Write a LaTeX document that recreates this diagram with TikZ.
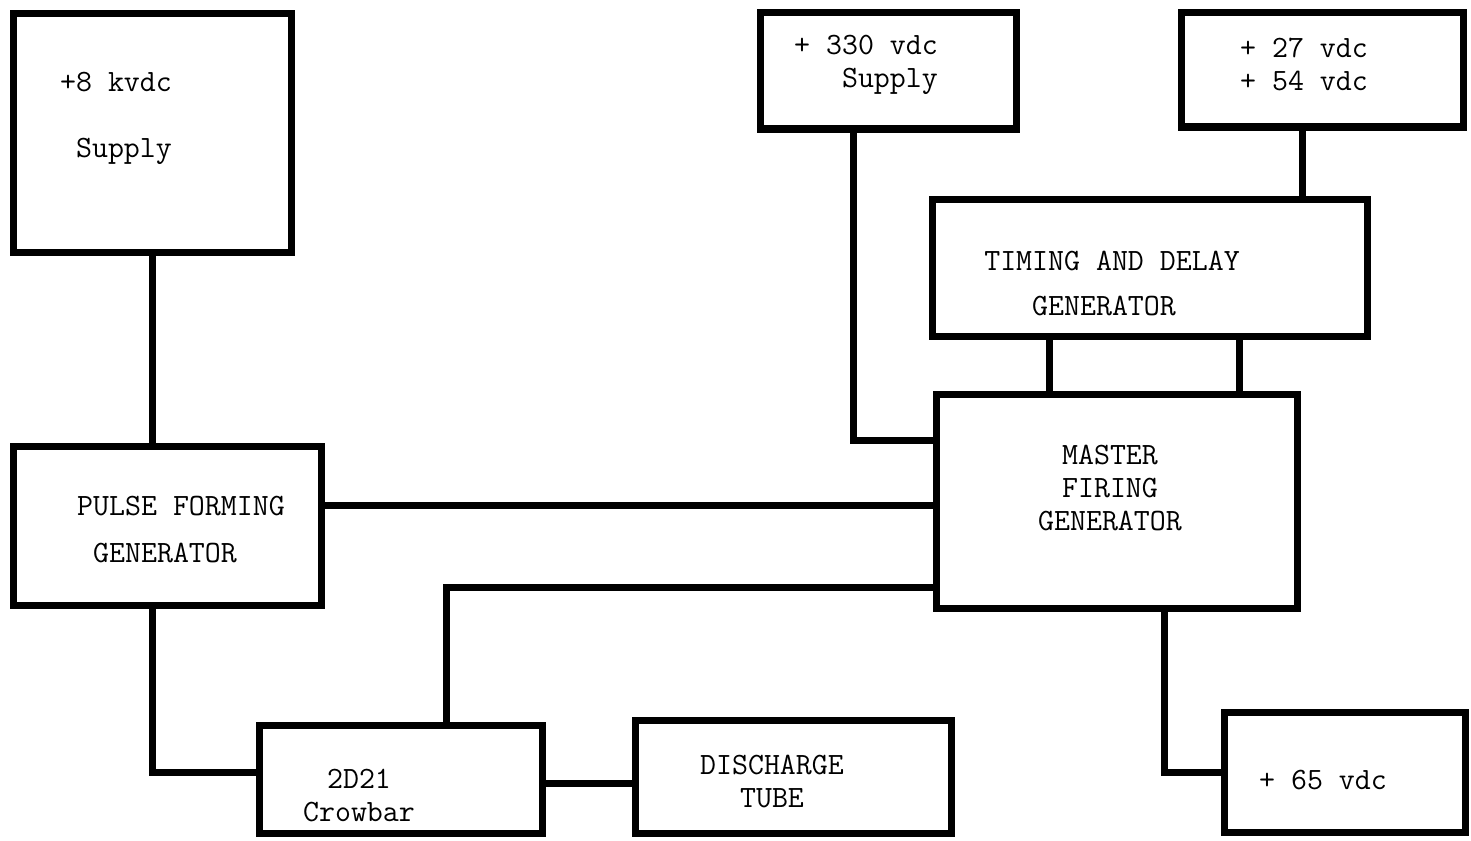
\documentclass[tikz,border=0pt]{standalone}
\usepackage{tikz}
\tikzset{
  blk/.style={draw, line width=7pt, inner sep=0pt},
  lbl/.style={font=\ttfamily\fontsize{31}{33}\selectfont, inner sep=0pt},
  wire/.style={line width=7pt}
}

\begin{document}
\begin{tikzpicture}[x=1pt, y=-1pt]
    \useasboundingbox (0,0) rectangle (1471,840);

    \node[blk, minimum width=278pt, minimum height=238pt] (sup8) at (152,133) {};
    \node[blk, minimum width=256pt, minimum height=116pt] (sup330) at (888,71) {};
    \node[blk, minimum width=282pt, minimum height=114pt] (sup27) at (1322,70) {};
    \node[blk, minimum width=435pt, minimum height=137pt] (tdg) at (1149.5,267.5) {};
    \node[blk, minimum width=361pt, minimum height=214pt] (mfg) at (1116.5,501) {};
    \node[blk, minimum width=308pt, minimum height=159pt] (pfg) at (167,525.5) {};
    \node[blk, minimum width=283pt, minimum height=108pt] (crow) at (400.5,779) {};
    \node[blk, minimum width=316pt, minimum height=113pt] (dis) at (793,776.5) {};
    \node[blk, minimum width=241pt, minimum height=120pt] (sup65) at (1344.5,772) {};

    \node[lbl, align=right] (sup8-t) at (116,118) {+8 kvdc\\[33pt]Supply};
    \node[lbl, align=right] (sup330-t) at (866,65) {+ 330 vdc\\Supply};
    \node[lbl, align=left] (sup27-t) at (1304,64) {+ 27 vdc\\+ 54 vdc};
    \node[lbl, align=left] (tdg-t) at (1112,283) {TIMING AND DELAY\\[12pt]~~~GENERATOR};
    \node[lbl, align=center] (mfg-t) at (1110,488) {MASTER\\FIRING\\GENERATOR};
    \node[lbl, align=left] (pfg-t) at (181,530) {PULSE FORMING\\[14pt]~GENERATOR};
    \node[lbl, align=center] (crow-t) at (359,796) {2D21\\Crowbar};
    \node[lbl, align=center] (dis-t) at (772,781) {DISCHARGE\\TUBE};
    \node[lbl] (sup65-t) at (1323,780) {+ 65 vdc};

    \draw[wire] (sup8.south) -- (sup8.south |- pfg.north);
    \draw[wire] (pfg.south -| sup8.south) |- ([yshift=7pt]crow.west);
    \draw[wire] ([yshift=20pt]pfg.east) -- ([yshift=20pt]pfg.east -| mfg.west);
    \draw[wire] ([yshift=-86pt]mfg.west) -| ([xshift=46pt]crow.north);
    \draw[wire] ([yshift=-4pt]crow.east) -- ([yshift=-4pt]crow.east -| dis.west);
    \draw[wire] ([xshift=-35pt]sup330.south) |- ([yshift=61pt]mfg.west);
    \draw[wire] ([xshift=-20pt]sup27.south) -- ([xshift=-20pt]sup27.south |- tdg.north);
    \foreach \dx in {-100,90}
        \draw[wire] ([xshift=\dx pt]tdg.south) -- ([xshift=\dx pt]tdg.south |- mfg.north);
    \draw[wire] ([xshift=48pt]mfg.south) |- (sup65.west);
\end{tikzpicture}
\end{document}
